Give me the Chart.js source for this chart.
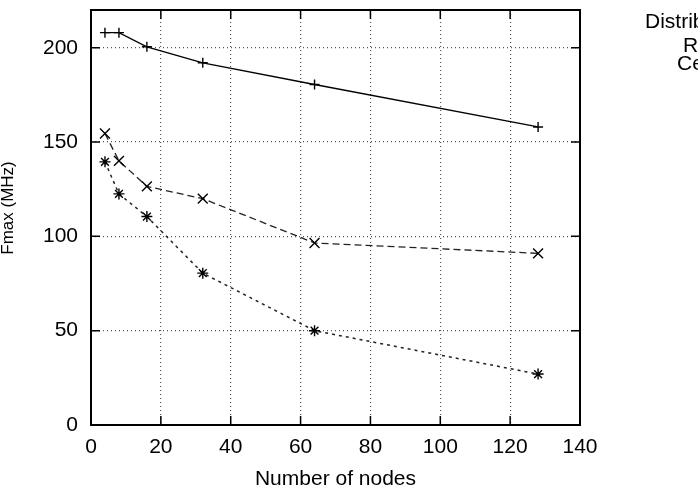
<!DOCTYPE html>
<html>
<head>
<meta charset="utf-8">
<script src="https://cdn.jsdelivr.net/npm/chart.js@4.4.1/dist/chart.umd.min.js"></script>
<style>
  body { margin: 0; background: #fff; }
  #wrap { width: 698px; height: 493px; }
</style>
</head>
<body>
<div id="wrap"><canvas id="myChart" width="698" height="493"></canvas></div>
<script>
// node counts on the x axis
const nodes = [4, 8, 16, 32, 64, 128];
// Fmax per architecture (MHz)
const distributed = [208, 208, 200.5, 192, 180.5, 158];
const ring = [154.5, 140, 126.5, 120, 96.5, 91];
const centralized = [139.5, 122.5, 110.5, 80.5, 50, 27];
const seriesNames = ['Distributed', 'Ring', 'Centralized'];
const xTicks = [0, 20, 40, 60, 80, 100, 120, 140];
const yTicks = [0, 50, 100, 150, 200];

const FONT = 'Liberation Sans, Arial, sans-serif';

function toPoints(ys) {
    return nodes.map((n, i) => ({ x: n, y: ys[i] }));
}

// frame, inward tick marks, y title and the (clipped) key text
const gnuplotBits = {
    id: 'gnuplotBits',
    afterDraw(chart) {
        const c = chart.ctx;
        const a = chart.chartArea;
        const xs = chart.scales.x, ys = chart.scales.y;
        c.save();
        c.strokeStyle = '#000';
        c.lineWidth = 1.5;
        xTicks.forEach(v => {
            const px = xs.getPixelForValue(v);
            c.beginPath();
            c.moveTo(px, a.bottom); c.lineTo(px, a.bottom - 9);
            c.moveTo(px, a.top); c.lineTo(px, a.top + 9);
            c.stroke();
        });
        yTicks.forEach(v => {
            const py = ys.getPixelForValue(v);
            c.beginPath();
            c.moveTo(a.left, py); c.lineTo(a.left + 9, py);
            c.moveTo(a.right, py); c.lineTo(a.right - 9, py);
            c.stroke();
        });
        c.lineWidth = 2;
        c.strokeRect(a.left, a.top, a.right - a.left, a.bottom - a.top);

        c.fillStyle = '#000';
        // y axis title, partly off the left edge like the original
        c.save();
        c.font = '17px ' + FONT;
        c.translate(13, 208);
        c.rotate(-Math.PI / 2);
        c.textAlign = 'center';
        c.textBaseline = 'alphabetic';
        c.fillText('Fmax (MHz)', 0, 0);
        c.restore();

        // key, mostly outside the canvas on the right
        c.font = '21px ' + FONT;
        c.textAlign = 'left';
        c.textBaseline = 'alphabetic';
        c.fillText(seriesNames[0], 645, 28);
        c.fillText(seriesNames[1], 683, 52);
        c.fillText(seriesNames[2], 677, 70);
        c.restore();
    }
};

const ctx = document.getElementById('myChart').getContext('2d');
const myChart = new Chart(ctx, {
    type: 'scatter',
    data: {
        datasets: [{
            label: seriesNames[0],
            data: toPoints(distributed),
            showLine: true,
            borderColor: '#000',
            borderWidth: 1.3,
            pointStyle: 'cross',
            pointRadius: 5,
            pointBorderWidth: 1.4,
            pointBorderColor: '#000'
        }, {
            label: seriesNames[1],
            data: toPoints(ring),
            showLine: true,
            borderColor: '#222',
            borderWidth: 1.3,
            borderDash: [7, 4],
            pointStyle: 'crossRot',
            pointRadius: 7,
            pointBorderWidth: 1.4,
            pointBorderColor: '#000'
        }, {
            label: seriesNames[2],
            data: toPoints(centralized),
            showLine: true,
            borderColor: '#222',
            borderWidth: 1.5,
            borderDash: [3, 4],
            pointStyle: 'star',
            pointRadius: 5.5,
            pointBorderWidth: 1.4,
            pointBorderColor: '#000'
        }]
    },
    options: {
        responsive: false,
        animation: false,
        layout: { padding: { left: 0, top: 10, right: 118, bottom: 0 } },
        plugins: {
            legend: { display: false },
            tooltip: { enabled: false }
        },
        scales: {
            x: {
                type: 'linear',
                min: 0,
                max: 140,
                afterFit(s) { s.height = 68; },
                afterBuildTicks(s) { s.ticks = xTicks.map(v => ({ value: v })); },
                ticks: { color: '#000', font: { family: FONT, size: 21 }, padding: 10, maxRotation: 0 },
                grid: {
                    drawTicks: false,
                    color: c => (c.tick && (c.tick.value === 0 || c.tick.value === 140)) ? 'rgba(0,0,0,0)' : '#555',
                    lineWidth: 1.2
                },
                border: { display: false, dash: [1, 3] },
                title: {
                    display: true,
                    text: 'Number of nodes',
                    color: '#000',
                    font: { family: FONT, size: 21 },
                    padding: { top: 0, bottom: 1 }
                }
            },
            y: {
                min: 0,
                max: 220,
                afterFit(s) { s.width = 91; s.paddingTop = 0; s.paddingBottom = 0; },
                afterBuildTicks(s) { s.ticks = yTicks.map(v => ({ value: v })); },
                ticks: { color: '#000', font: { family: FONT, size: 21 }, padding: 13 },
                grid: {
                    drawTicks: false,
                    color: c => (c.tick && c.tick.value === 0) ? 'rgba(0,0,0,0)' : '#555',
                    lineWidth: 1.2
                },
                border: { display: false, dash: [1, 3] }
            }
        }
    },
    plugins: [gnuplotBits]
});
</script>
</body>
</html>
